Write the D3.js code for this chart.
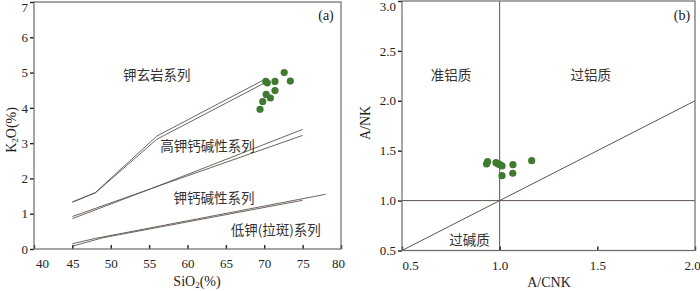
<!DOCTYPE html>
<html>
<head>
<meta charset="utf-8">
<script src="https://cdn.jsdelivr.net/npm/d3@7/dist/d3.min.js"></script>
<style>
  body { margin: 0; background: #fff; }
  svg { display: block; }
  .tick text { font-family: "Liberation Serif", "DejaVu Serif", serif; font-size: 13px; fill: #222; }
  .lab { font-family: "Noto Sans CJK SC", sans-serif; font-size: 13.5px; fill: #333; }
  .ttl { font-family: "Liberation Serif", serif; font-size: 14px; fill: #222; }
</style>
</head>
<body>
<svg width="700" height="291"></svg>
<script>
// (a) K2O vs SiO2 samples
const sio2 = [69.45, 69.8, 70.25, 70.8, 70.2, 70.4, 71.4, 71.4, 72.6, 73.4];
const k2o  = [3.96, 4.18, 4.38, 4.28, 4.75, 4.71, 4.75, 4.49, 5.0, 4.76];

// (b) A/NK vs A/CNK samples
const acnk = [0.933, 0.938, 0.981, 0.99, 1.001, 1.012, 1.012, 1.068, 1.067, 1.164];
const ank  = [1.367, 1.39, 1.38, 1.37, 1.36, 1.347, 1.25, 1.36, 1.274, 1.40];

// boundary bands of panel (a), each band is two lines
const bands = [
  [[[45, 1.33], [48, 1.6], [56, 3.2], [70, 4.8]],
   [[45, 1.33], [48, 1.59], [56, 3.11], [70, 4.7]]],
  [[[45, 0.92], [55.5, 1.73], [75, 3.39]],
   [[45, 0.86], [55.5, 1.73], [75, 3.22]]],
  [[[45, 0.15], [48, 0.3], [78, 1.55]],
   [[45, 0.08], [49, 0.32], [75, 1.38]]]
];
const bandNames = ["钾玄岩系列", "高钾钙碱性系列", "钾钙碱性系列", "低钾(拉斑)系列"];

const xTicksA = [40, 45, 50, 55, 60, 65, 70, 75, 80];
const yTicksA = [0, 1, 2, 3, 4, 5, 6, 7];
const xTicksB = [0.5, 1.0, 1.5, 2.0];
const yTicksB = [0.5, 1.0, 1.5, 2.0, 2.5, 3.0];
const fieldNames = ["准铝质", "过铝质", "过碱质"];

const svg = d3.select("svg");
const lineCol = "#5e534e";
const dotCol = "#3f7a30";
const frameCol = "#6b6b6b";

function frame(g, x, y) {
  g.append("rect")
    .attr("x", x.range()[0]).attr("y", y.range()[1])
    .attr("width", x.range()[1] - x.range()[0])
    .attr("height", y.range()[0] - y.range()[1])
    .attr("fill", "none").attr("stroke", frameCol).attr("stroke-width", 1.2);
}

function axes(g, x, y, xt, yt, fmt) {
  const gx = g.append("g").attr("transform", `translate(0,${y.range()[0]})`)
    .call(d3.axisBottom(x).tickValues(xt).tickSizeInner(-4).tickSizeOuter(0).tickPadding(10).tickFormat(fmt));
  const gy = g.append("g").attr("transform", `translate(${x.range()[0]},0)`)
    .call(d3.axisLeft(y).tickValues(yt).tickSizeInner(4).tickSizeOuter(0).tickPadding(2).tickFormat(fmt));
  [gx, gy].forEach(a => {
    a.select(".domain").remove();
    a.selectAll(".tick line").attr("stroke", "#222").attr("stroke-width", 1.4);
  });
  // keep edge labels inside the picture
  gx.selectAll(".tick text").filter((d, i) => i === 0).attr("dx", 8);
  gx.selectAll(".tick text").filter((d, i) => i === xt.length - 1).attr("dx", -3);
  gy.selectAll(".tick text").filter((d, i) => i === yt.length - 1).attr("dy", "0.75em");
}

// ---------- panel (a)
const xa = d3.scaleLinear().domain([40, 80]).range([34, 341]);
const ya = d3.scaleLinear().domain([0, 7]).range([249, 2]);
const ga = svg.append("g");

const la = d3.line().x(d => xa(d[0])).y(d => ya(d[1]));
bands.forEach(b => b.forEach(l => {
  ga.append("path").attr("d", la(l)).attr("fill", "none")
    .attr("stroke", lineCol).attr("stroke-width", 0.9);
}));

ga.selectAll("circle").data(d3.range(sio2.length)).join("circle")
  .attr("cx", i => xa(sio2[i])).attr("cy", i => ya(k2o[i])).attr("r", 3.6)
  .attr("fill", dotCol);

axes(ga, xa, ya, xTicksA, yTicksA, d3.format("d"));
frame(ga, xa, ya);

const posA = [[56.0, 4.97], [62.6, 2.96], [63.45, 1.46], [71.5, 0.56]];
ga.selectAll(".lab").data(bandNames).join("text").attr("class", "lab")
  .attr("x", (d, i) => xa(posA[i][0])).attr("y", (d, i) => ya(posA[i][1]))
  .attr("text-anchor", "middle").attr("dominant-baseline", "central").text(d => d);

ga.append("text").attr("class", "ttl").attr("x", 326).attr("y", 20)
  .attr("text-anchor", "middle").text("(a)");

const tA = ga.append("text").attr("class", "ttl").attr("x", 197).attr("y", 286)
  .attr("text-anchor", "middle");
tA.append("tspan").text("SiO");
tA.append("tspan").attr("font-size", 9).attr("dy", 2).text("2");
tA.append("tspan").attr("dy", -2).text("(%)");

const tY = ga.append("text").attr("class", "ttl")
  .attr("transform", "translate(16,130) rotate(-90)").attr("text-anchor", "middle");
tY.append("tspan").text("K");
tY.append("tspan").attr("font-size", 9).attr("dy", 2).text("2");
tY.append("tspan").attr("dy", -2).text("O(%)");

// ---------- panel (b)
const xb = d3.scaleLinear().domain([0.5, 2.0]).range([402, 695]);
const yb = d3.scaleLinear().domain([0.5, 3.0]).range([250.5, 1]);
const gb = svg.append("g");

const refs = [
  [[0.5, 1.0], [2.0, 1.0]],
  [[1.0, 0.5], [1.0, 3.0]],
  [[0.5, 0.5], [2.0, 2.0]]
];
const lb = d3.line().x(d => xb(d[0])).y(d => yb(d[1]));
refs.forEach(r => {
  gb.append("path").attr("d", lb(r)).attr("fill", "none")
    .attr("stroke", lineCol).attr("stroke-width", 1);
});

gb.selectAll("circle").data(d3.range(acnk.length)).join("circle")
  .attr("cx", i => xb(acnk[i])).attr("cy", i => yb(ank[i])).attr("r", 3.6)
  .attr("fill", dotCol);

axes(gb, xb, yb, xTicksB, yTicksB, d3.format(".1f"));
frame(gb, xb, yb);

const posB = [[0.751, 2.27], [1.466, 2.27], [0.846, 0.62]];
gb.selectAll(".lab").data(fieldNames).join("text").attr("class", "lab")
  .attr("x", (d, i) => xb(posB[i][0])).attr("y", (d, i) => yb(posB[i][1]))
  .attr("text-anchor", "middle").attr("dominant-baseline", "central").text(d => d);

gb.append("text").attr("class", "ttl").attr("x", 682).attr("y", 20)
  .attr("text-anchor", "middle").text("(b)");

gb.append("text").attr("class", "ttl").attr("x", 549).attr("y", 287)
  .attr("text-anchor", "middle").text("A/CNK");

gb.append("text").attr("class", "ttl")
  .attr("transform", "translate(370,123) rotate(-90)").attr("text-anchor", "middle").text("A/NK");
</script>
</body>
</html>
